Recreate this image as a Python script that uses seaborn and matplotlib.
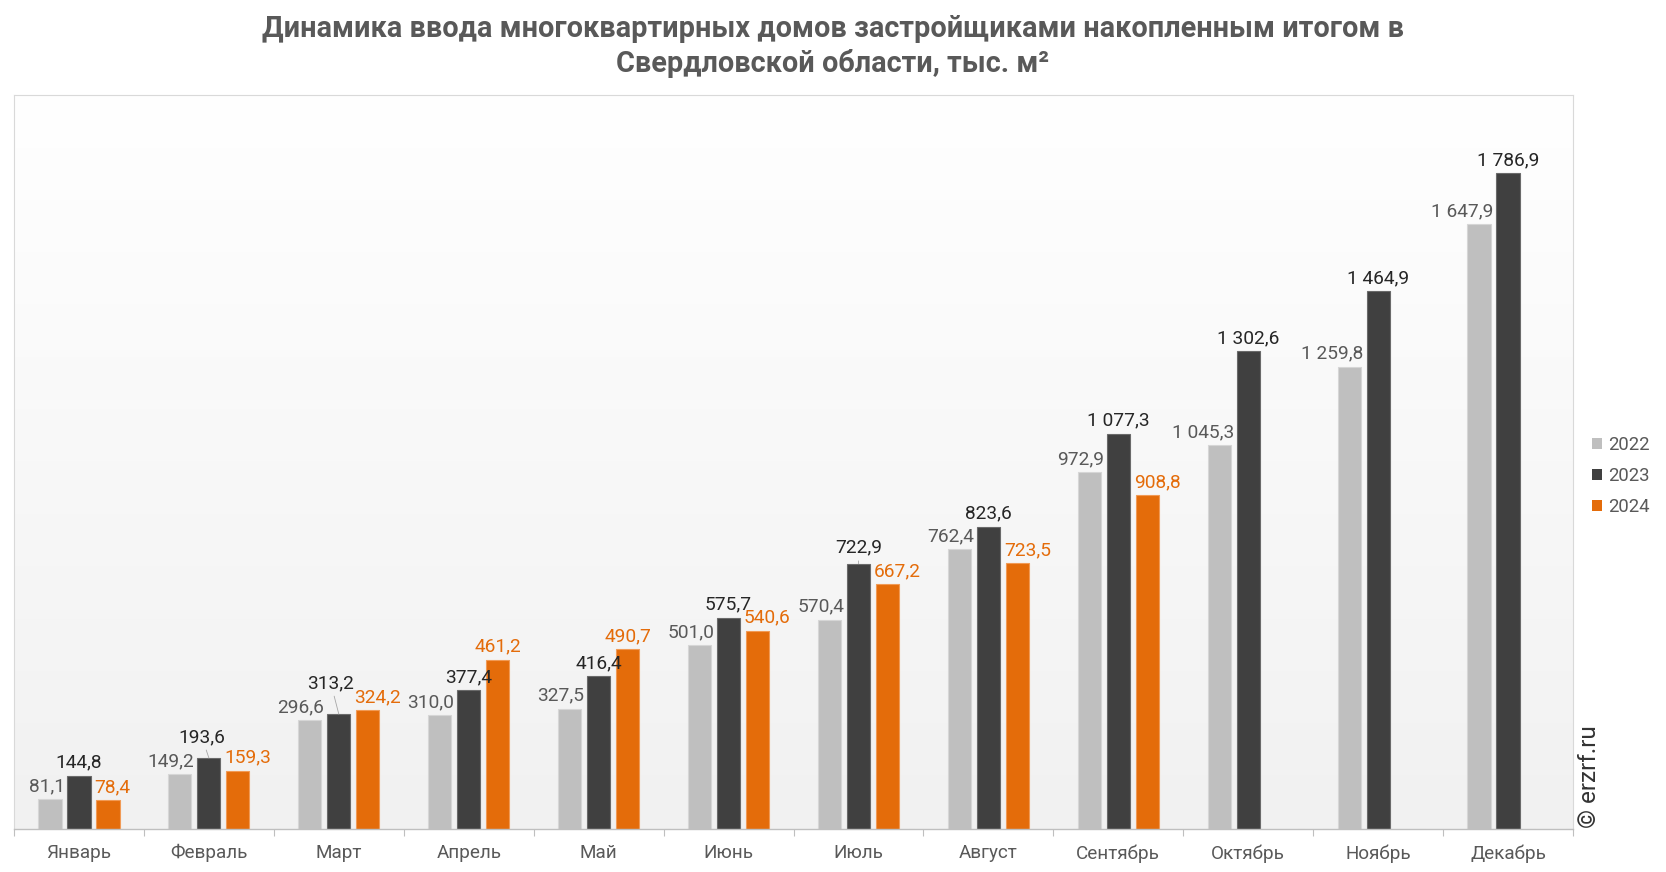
import numpy as np
import pandas as pd
import matplotlib
matplotlib.use("Agg")
import matplotlib.pyplot as plt
import seaborn as sns
from matplotlib.colors import LinearSegmentedColormap
from matplotlib.patches import Patch

# ---------------- data ----------------
months = ['Январь', 'Февраль', 'Март', 'Апрель', 'Май', 'Июнь', 'Июль',
          'Август', 'Сентябрь', 'Октябрь', 'Ноябрь', 'Декабрь']
years = ['2022', '2023', '2024']
v2022 = [81.1, 149.2, 296.6, 310.0, 327.5, 501.0, 570.4, 762.4, 972.9, 1045.3, 1259.8, 1647.9]
v2023 = [144.8, 193.6, 313.2, 377.4, 416.4, 575.7, 722.9, 823.6, 1077.3, 1302.6, 1464.9, 1786.9]
v2024 = [78.4, 159.3, 324.2, 461.2, 490.7, 540.6, 667.2, 723.5, 908.8, np.nan, np.nan, np.nan]

title1 = 'Динамика ввода многоквартирных домов застройщиками накопленным итогом в'
title2 = 'Свердловской области, тыс. м²'

# ---------------- style ----------------
bar_colors = {'2022': '#BFBFBF', '2023': '#404040', '2024': '#E46C0A'}
edge_colors = {'2022': '#D6D6D6', '2023': '#6A6A6A', '2024': '#F19A55'}
label_colors = {'2022': '#595959', '2023': '#262626', '2024': '#E46C0A'}
# orange label alignment per month (Excel-like placement)
orange_align = ['left', 'left', 'left', 'center', 'center', 'left', 'left', 'left', 'left']
# dark label nudges in pixels (dx, extra dy) and leader line flag
dark_nudge = {1: (-7, 8, True), 2: (-8, 18, True), 6: (0, 3, True)}

plt.rcParams['font.family'] = ['Roboto', 'DejaVu Sans']

W, H = 1666, 872
fig = plt.figure(figsize=(W / 100, H / 100), dpi=100)
ax = fig.add_axes([14 / W, (H - 829) / H, (1573 - 14) / W, (829 - 95) / H])
ax.set_facecolor('none')

df = pd.DataFrame({
    'month': months * 3,
    'year': ['2022'] * 12 + ['2023'] * 12 + ['2024'] * 12,
    'value': v2022 + v2023 + v2024,
}).dropna()

sns.barplot(data=df, x='month', y='value', hue='year', order=months, hue_order=years,
            palette=bar_colors, saturation=1, width=0.67, gap=0.2, errorbar=None,
            ax=ax, legend=False, zorder=2, linewidth=0.8)

# gradient background
grad = np.linspace(0, 1, 256)[:, None]
cmap = LinearSegmentedColormap.from_list('bg', ['#ffffff', '#f1f1f1'])
ax.imshow(grad, extent=[0, 1, 0, 1], transform=ax.transAxes, aspect='auto',
          cmap=cmap, zorder=0)

ax.set_xlim(-0.5, 11.5)
ax.set_ylim(0, 2000)

PX = 0.72  # points per pixel
for j, cont in enumerate(ax.containers):
    yr = years[j]
    for bar in cont:
        bar.set_edgecolor(edge_colors[yr])
        h = bar.get_height()
        if h is None or np.isnan(h):
            continue
        x0 = bar.get_x()
        w = bar.get_width()
        cx = x0 + w / 2
        i = int(round(cx))
        txt = f"{h:,.1f}".replace(',', ' ').replace('.', ',')
        kw = dict(textcoords='offset points', va='baseline', fontsize=13.8,
                  color=label_colors[yr], zorder=5)
        if yr == '2022':
            ax.annotate(txt, xy=(x0 + w, h), xytext=(3 * PX, 8 * PX), ha='right', **kw)
        elif yr == '2024':
            if orange_align[i] == 'left':
                ax.annotate(txt, xy=(x0, h), xytext=(-2 * PX, 8 * PX), ha='left', **kw)
            else:
                ax.annotate(txt, xy=(cx, h), xytext=(0, 8 * PX), ha='center', **kw)
        else:
            dx, ddy, lead = dark_nudge.get(i, (0, 0, False))
            extra = {}
            if lead:
                extra['arrowprops'] = dict(arrowstyle='-', color='#a6a6a6', lw=0.6,
                                           shrinkA=1, shrinkB=0)
            ax.annotate(txt, xy=(cx, h), xytext=(dx * PX, (8 + ddy) * PX),
                        ha='center', **kw, **extra)

# axes styling
for s in ['left', 'top', 'right']:
    ax.spines[s].set_color('#d9d9d9')
    ax.spines[s].set_linewidth(0.8)
ax.spines['bottom'].set_color('#bfbfbf')
ax.spines['bottom'].set_linewidth(1.0)
ax.set_yticks([])
ax.set_xlabel('')
ax.set_ylabel('')
ax.set_xticks(range(12))
ax.set_xticklabels(months, fontsize=13.6, color='#595959')
ax.tick_params(axis='x', which='major', length=0, pad=11)
ax.set_xticks(np.arange(-0.5, 12, 1), minor=True)
ax.tick_params(axis='x', which='minor', length=5, color='#bfbfbf', width=0.8)

# legend
handles = [Patch(facecolor=bar_colors[y], edgecolor='none') for y in years]
fig.legend(handles=handles, labels=years, loc='center left',
           bbox_to_anchor=(1592 / W, 1 - 476 / H), frameon=False, fontsize=13.3,
           labelcolor='#595959', handlelength=0.55, handleheight=0.55,
           handletextpad=0.3, labelspacing=0.72, borderpad=0, borderaxespad=0)

# title
fig.text(0.5, 1 - 29 / H, title1, ha='center', va='center', fontsize=20.8,
         fontweight='bold', color='#595959')
fig.text(0.5, 1 - 63 / H, title2, ha='center', va='center', fontsize=20.8,
         fontweight='bold', color='#595959')

# watermark
fig.text(1590 / W, (H - 828) / H, '© erzrf.ru', rotation=90, ha='center',
         va='bottom', fontsize=17.5, color='#333333')

fig.savefig('out.png', dpi=100)
